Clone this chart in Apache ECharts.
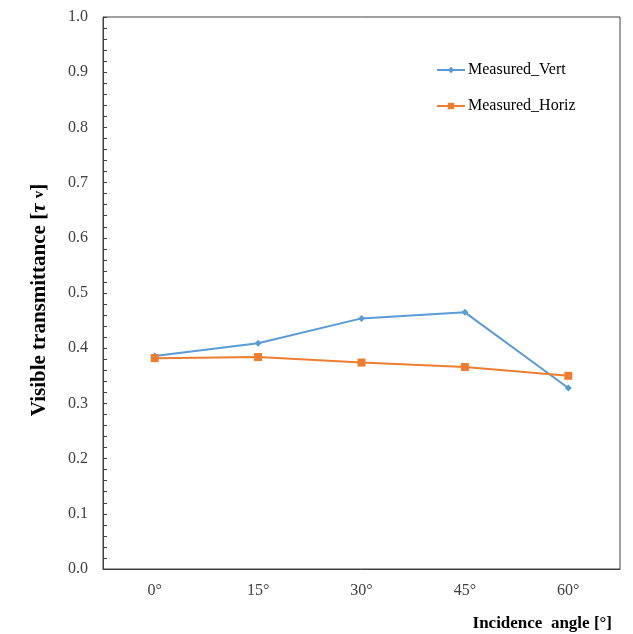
<!DOCTYPE html>
<html>
<head>
<meta charset="utf-8">
<script src="https://cdn.jsdelivr.net/npm/echarts@6/dist/echarts.min.js"></script>
<style>
  html, body { margin: 0; padding: 0; background: #fff; }
  #chart { width: 633px; height: 634px; }
</style>
</head>
<body>
<div id="chart"></div>
<script>
// Incidence angles (category axis)
const angles = ['0°', '15°', '30°', '45°', '60°'];
// Visible transmittance, vertical and horizontal measurements
const measuredVert = [0.386, 0.409, 0.454, 0.465, 0.328];
const measuredHoriz = [0.382, 0.384, 0.374, 0.366, 0.350];
// Y axis range and step
const yMin = 0, yMax = 1.0, yStep = 0.1;

const serif = 'Liberation Serif, Times New Roman, serif';
const axisGray = '#404040';
const labelGray = '#404040';

const chart = echarts.init(document.getElementById('chart'), null, { renderer: 'canvas' });

chart.setOption({
  animation: false,
  backgroundColor: '#ffffff',
  grid: {
    left: 103, right: 13, top: 17, bottom: 65,
    show: true, borderColor: axisGray, borderWidth: 1
  },
  title: {
    text: 'Incidence  angle [°]',
    right: 16, top: 610,
    textStyle: { fontFamily: serif, fontWeight: 'bold', fontSize: 17, color: '#000' }
  },
  legend: {
    orient: 'vertical',
    left: 431, top: 57,
    itemGap: 20,
    itemWidth: 28, itemHeight: 8,
    textStyle: { fontFamily: serif, fontSize: 16, color: '#000', padding: [0, 0, 0, -2] },
    data: ['Measured_Vert', 'Measured_Horiz']
  },
  xAxis: [
    {
      type: 'category',
      data: angles,
      boundaryGap: true,
      axisLine: { lineStyle: { color: axisGray, width: 1 } },
      axisTick: { inside: true, alignWithLabel: true, length: 4, lineStyle: { color: axisGray } },
      axisLabel: { fontFamily: serif, fontSize: 16, color: labelGray, margin: 14 },
      splitLine: { show: false }
    },
    {
      type: 'category',
      data: angles,
      position: 'bottom',
      boundaryGap: true,
      axisLine: { show: false },
      axisTick: { inside: true, length: 4, lineStyle: { color: axisGray } },
      axisLabel: { show: false },
      splitLine: { show: false }
    }
  ],
  yAxis: {
    type: 'value',
    min: yMin, max: yMax, interval: yStep,
    name: 'Visible transmittance [{tau|τ} {sub|v}]',
    nameLocation: 'middle',
    nameGap: 53,
    nameTextStyle: {
      fontFamily: serif, fontWeight: 'bold', fontSize: 21, color: '#000',
      padding: [0, 0, 0, -14],
      rich: {
        tau: { fontFamily: serif, fontStyle: 'italic', fontSize: 21, color: '#000' },
        sub: { fontFamily: serif, fontSize: 15, color: '#000' }
      }
    },
    axisLine: { show: true, lineStyle: { color: axisGray, width: 1 } },
    axisTick: { show: true, inside: true, length: 4, lineStyle: { color: axisGray } },
    minorTick: { show: true, splitNumber: 5, length: 4, lineStyle: { color: axisGray } },
    axisLabel: {
      fontFamily: serif, fontSize: 16, color: labelGray, margin: 15,
      formatter: v => v.toFixed(1)
    },
    splitLine: { show: false }
  },
  series: [
    {
      name: 'Measured_Vert',
      type: 'line',
      data: measuredVert,
      symbol: 'diamond',
      symbolSize: 7,
      lineStyle: { color: '#5B9BD5', width: 2 },
      itemStyle: { color: '#5B9BD5' }
    },
    {
      name: 'Measured_Horiz',
      type: 'line',
      data: measuredHoriz,
      symbol: 'rect',
      symbolSize: 8,
      lineStyle: { color: '#ED7D31', width: 2 },
      itemStyle: { color: '#ED7D31' }
    }
  ]
});
</script>
</body>
</html>
